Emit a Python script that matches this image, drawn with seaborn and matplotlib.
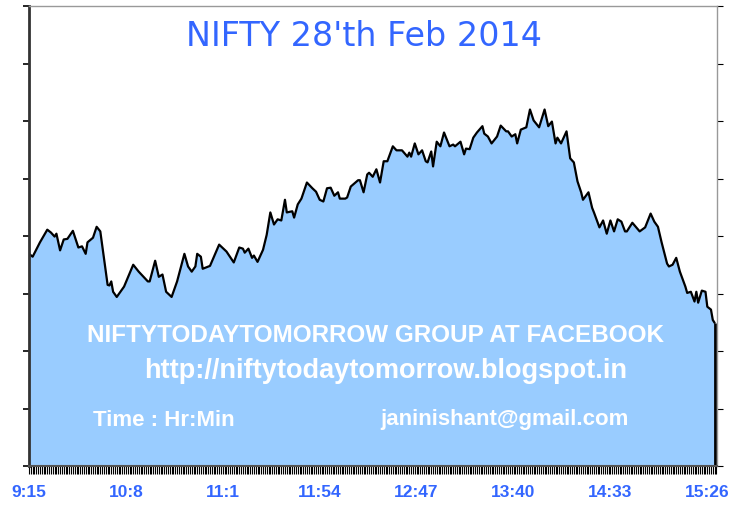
import seaborn as sns
import matplotlib.pyplot as plt
import matplotlib.ticker as mticker
import pandas as pd

# minutes after 9:15 and index value
minutes = [0, 2, 6, 10, 12, 14, 15, 17, 19, 21, 24, 27, 29, 31, 32, 35, 37, 39, 41, 43, 44, 45, 46, 48, 52, 57, 60,
           65, 66, 69, 71, 73, 75, 78, 81, 83, 85, 87, 89, 91, 92, 94, 95, 99, 104, 108, 112, 115, 117, 118, 120, 122, 123,
           125, 128, 130, 132, 134, 136, 138, 140, 141, 144, 145, 147, 149, 152, 155, 157, 159, 161, 163, 165, 167, 169,
           170, 173, 174, 176, 180, 181, 183, 185,
           186, 188, 190, 192, 194, 196, 199, 201, 204, 207, 208, 209, 211, 213, 215, 217, 218, 220, 221, 223, 225, 227,
           230, 232, 233, 236, 238, 239, 241, 243, 245, 248, 249,
           251, 253, 256, 258, 261, 262, 264, 266, 267, 269, 272, 274, 276, 279, 282, 284, 286, 288, 289, 291, 294, 296,
           298, 300, 302, 303, 306, 308,
           309, 312, 314, 316, 318, 320, 322, 324, 326, 327, 330, 334, 337, 340, 342, 344, 346, 349, 350, 352, 354, 356,
           359, 360, 362, 364, 365, 366, 368, 370, 371, 373, 374, 375]

nifty = [6236.9, 6236.4, 6238.9, 6241.1, 6240.6, 6239.9, 6240.4, 6237.5, 6239.4, 6239.5, 6240.9, 6238.0, 6238.2,
         6236.9, 6238.9, 6239.7, 6241.6, 6240.8, 6236.2, 6231.5, 6231.4, 6232.1, 6230.3, 6229.4, 6231.2, 6235.0, 6233.8,
         6232.1, 6232.1, 6235.7, 6232.9, 6233.3, 6230.3, 6229.4, 6232.1, 6234.5, 6236.9, 6234.7, 6233.8, 6234.7,
         6236.9, 6236.4, 6234.3, 6234.8, 6238.5, 6237.3, 6235.4, 6238.0, 6237.8, 6237.1, 6237.8, 6236.2, 6236.6,
         6235.5, 6237.6, 6240.2, 6244.1, 6242.0, 6242.9, 6242.7, 6246.3, 6244.1, 6244.3, 6243.2, 6245.5, 6246.5,
         6249.3, 6248.3, 6247.7, 6246.3, 6246.0, 6248.3, 6248.4, 6247.0, 6247.6, 6246.5, 6246.5, 6246.7, 6248.6,
         6249.7, 6249.7, 6247.6, 6250.7,
         6251.0, 6250.3, 6251.6, 6249.3, 6253.0, 6253.0, 6255.6, 6254.9, 6254.9, 6253.8, 6254.5, 6253.8, 6256.1,
         6254.2, 6254.9, 6253.0, 6252.8, 6254.7, 6252.1, 6256.4, 6255.6, 6258.0, 6255.6, 6255.9, 6255.6, 6256.4,
         6254.2, 6255.2, 6255.1, 6257.1, 6258.0, 6259.1, 6257.8,
         6257.3, 6256.1, 6257.3, 6259.2, 6258.2, 6258.2, 6257.3, 6257.7, 6256.1, 6258.5, 6258.9, 6262.0, 6260.1,
         6258.9, 6262.0, 6259.1, 6259.9, 6256.1, 6257.1, 6256.1, 6258.2, 6253.5, 6252.8, 6249.5, 6247.6, 6246.3,
         6247.6, 6244.9,
         6244.1, 6241.5, 6242.7, 6240.4, 6242.7, 6240.8, 6242.9, 6242.5, 6240.8, 6240.8, 6242.3, 6240.8, 6241.5,
         6243.9, 6242.5, 6241.6, 6238.9, 6235.2, 6234.7, 6235.0, 6236.2, 6233.8, 6231.2, 6230.1, 6230.3, 6228.6,
         6230.3, 6228.4, 6230.5, 6230.3, 6227.7, 6227.2, 6225.4, 6224.9]

tick_labels = ["9:15", "10:8", "11:1", "11:54", "12:47", "13:40", "14:33", "15:26"]

Y_MIN, Y_MAX, Y_STEP = 6200, 6280, 10
BLUE = '#3366ff'

df = pd.DataFrame({'minute': minutes, 'nifty': nifty})

sns.set_style('white')
plt.rcParams['font.family'] = ['Liberation Sans', 'DejaVu Sans']

fig = plt.figure(figsize=(7.5, 5.14), dpi=100)
ax = fig.add_axes([29 / 750, 48 / 514, 688 / 750, 460 / 514])

ax.fill_between(df['minute'], Y_MIN, df['nifty'], color='#99ccff', lw=0)
sns.lineplot(data=df, x='minute', y='nifty', ax=ax, color='black', lw=1.6)
ax.vlines(df['minute'].iloc[-1], Y_MIN, df['nifty'].iloc[-1], color='black', lw=2)

ax.set_xlim(0, 376.3)
ax.set_ylim(Y_MIN, Y_MAX)
ax.set_xlabel('')
ax.set_ylabel('')

# x ticks: one per minute, labels every 53 minutes
def to_minute(s):
    h, m = s.split(':')
    return int(h) * 60 + int(m) - (9 * 60 + 15)

ax.set_xticks([to_minute(t) for t in tick_labels])
ax.set_xticklabels(tick_labels, color=BLUE, fontsize=12.5, fontweight='bold')
ax.xaxis.set_minor_locator(mticker.MultipleLocator(1))
ax.tick_params(axis='x', which='both', direction='out', length=6, width=0.8, color='black', bottom=True)
ax.tick_params(axis='x', which='major', pad=8)

ax.set_yticks(range(Y_MIN, Y_MAX + 1, Y_STEP))
ax.tick_params(axis='y', which='major', direction='out', length=4, width=1.2, color='black',
               left=True, right=True, labelleft=False)
for t in ax.yaxis.get_major_ticks():
    t.tick2line.set_color('#cccccc')
    t.tick2line.set_markeredgewidth(0.8)

for side in ['top', 'right']:
    ax.spines[side].set_color('#999999')
    ax.spines[side].set_linewidth(1)
ax.spines['left'].set_color('#333333')
ax.spines['left'].set_linewidth(2)
ax.spines['bottom'].set_color('#555555')
ax.spines['bottom'].set_linewidth(1.5)

# title and watermark texts
ax.text(0.487, 0.933, "NIFTY 28'th Feb 2014", transform=ax.transAxes, ha='center', va='center',
        color=BLUE, fontsize=24, family=['DejaVu Sans'])
ax.text(0.503, 0.283, 'NIFTYTODAYTOMORROW GROUP AT FACEBOOK', transform=ax.transAxes, ha='center',
        va='center', color='white', fontsize=17.5, fontweight='bold')
ax.text(0.518, 0.206, 'http://niftytodaytomorrow.blogspot.in', transform=ax.transAxes, ha='center',
        va='center', color='white', fontsize=19.5, fontweight='bold')
ax.text(0.093, 0.1, 'Time : Hr:Min', transform=ax.transAxes, ha='left', va='center',
        color='white', fontsize=16, fontweight='bold')
ax.text(0.51, 0.1, 'janinishant@gmail.com', transform=ax.transAxes, ha='left', va='center',
        color='white', fontsize=16, fontweight='bold')

fig.savefig('out.png', dpi=100)
